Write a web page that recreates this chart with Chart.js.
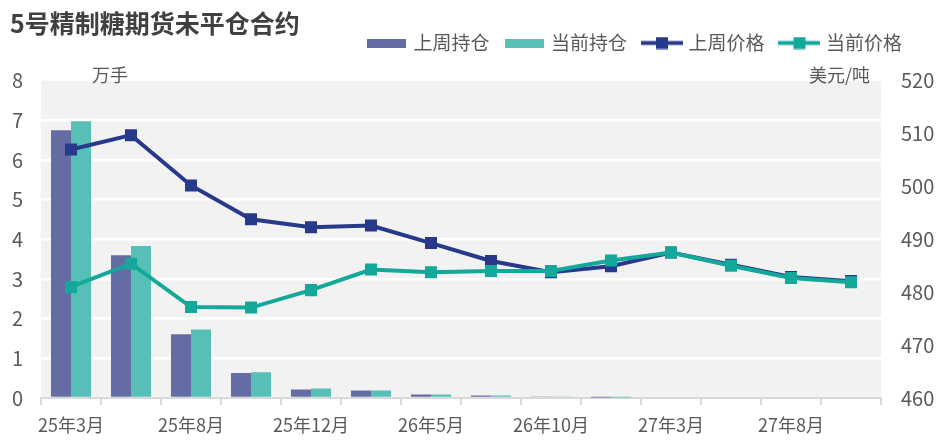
<!DOCTYPE html>
<html><head><meta charset="utf-8">
<script src="https://cdn.jsdelivr.net/npm/chart.js@4"></script>
<style>html,body{margin:0;padding:0;background:#fff}#wrap{width:945px;height:444px}</style>
</head><body><div id="wrap"><canvas id="c" width="945" height="444"></canvas></div>
<script>
const categories = ['25年3月','25年5月','25年8月','25年10月','25年12月','26年3月','26年5月','26年8月','26年10月','26年12月','27年3月','27年5月','27年8月','27年10月'];
const lastWeekOI = [6.75,3.60,1.61,0.63,0.215,0.19,0.09,0.065,0.04,0.015,0,0,0,0];
const currentOI  = [6.98,3.83,1.73,0.65,0.24,0.19,0.09,0.065,0.04,0.015,0,0,0,0];
const lastWeekPrice = [507.0,509.7,500.2,493.8,492.3,492.6,489.3,485.9,483.8,484.9,487.5,485.2,482.9,482.1];
const currentPrice  = [481.0,485.4,477.2,477.1,480.4,484.3,483.8,484.0,484.0,486.0,487.5,485.0,482.7,481.9];
const seriesNames = ['上周持仓','当前持仓','上周价格','当前价格'];
const leftTicks = {min:0, max:8, step:1};
const rightTicks = {min:460, max:520, step:10};
const titleText = '5号精制糖期货未平仓合约';
const leftUnit = '万手';
const rightUnit = '美元/吨';

const C = {bar1:'#636ca3', bar2:'#56bfb6', line1:'#27398a', line2:'#14a89b', text:'#595959'};
const FONT = "'Noto Sans CJK SC', 'Noto Sans', sans-serif";
Chart.defaults.font.family = FONT;
Chart.defaults.color = C.text;

function barIcon(color){
  const c = document.createElement('canvas'); c.width = 39; c.height = 9;
  const x = c.getContext('2d'); x.fillStyle = color; x.fillRect(0,0,39,9); return c;
}
function lineIcon(color){
  const c = document.createElement('canvas'); c.width = 42; c.height = 13;
  const x = c.getContext('2d'); x.fillStyle = color; x.fillRect(0,4.5,42,4); x.fillRect(15,0.5,12,12); return c;
}
const legendIcons = [barIcon(C.bar1), barIcon(C.bar2), lineIcon(C.line1), lineIcon(C.line2)];

const plotBg = {
  id:'plotBg',
  afterLayout(chart){
    // keep the legend's right edge 25px in from the canvas edge, as in the reference
    if (chart.legend) chart.legend.right = chart.width - 25;
  },
  beforeDraw(chart){
    const {ctx, chartArea:a} = chart;
    ctx.save(); ctx.fillStyle = '#f2f2f2';
    ctx.fillRect(a.left, a.top, a.right-a.left, a.bottom-a.top); ctx.restore();
  },
  afterDraw(chart){
    const {ctx, chartArea:a} = chart;
    ctx.save();
    ctx.font = "18px " + FONT; ctx.fillStyle = C.text; ctx.textBaseline = 'middle';
    ctx.textAlign = 'left'; ctx.fillText(leftUnit, a.left + 51, a.top - 5.5);
    ctx.textAlign = 'right'; ctx.fillText(rightUnit, a.right - 11, a.top - 5.5);
    ctx.restore();
  }
};

new Chart(document.getElementById('c'), {
  data: {
    labels: categories,
    datasets: [
      {type:'bar', label:seriesNames[0], data:lastWeekOI, backgroundColor:C.bar1, yAxisID:'y', order:2, categoryPercentage:0.667, barPercentage:1},
      {type:'bar', label:seriesNames[1], data:currentOI, backgroundColor:C.bar2, yAxisID:'y', order:2, categoryPercentage:0.667, barPercentage:1},
      {type:'line', label:seriesNames[2], data:lastWeekPrice, borderColor:C.line1, backgroundColor:C.line1, borderWidth:4, pointStyle:'rect', pointRadius:8.5, pointBorderWidth:0, pointBackgroundColor:C.line1, tension:0, yAxisID:'yR', order:1},
      {type:'line', label:seriesNames[3], data:currentPrice, borderColor:C.line2, backgroundColor:C.line2, borderWidth:4, pointStyle:'rect', pointRadius:8.5, pointBorderWidth:0, pointBackgroundColor:C.line2, tension:0, yAxisID:'yR', order:0}
    ]
  },
  options: {
    responsive:false, animation:false, devicePixelRatio:1,
    layout:{padding:{left:10, right:0, top:0, bottom:6}},
    plugins:{
      title:{display:true, text:titleText, align:'start', color:'#404040', font:{size:25, weight:'bold'}, padding:{top:8, bottom:-22.5}},
      legend:{position:'top', align:'end', labels:{
        usePointStyle:true, pointStyleWidth:34, padding:18, color:C.text, font:{size:19},
        sort:(a,b)=>a.datasetIndex-b.datasetIndex,
        generateLabels(chart){
          const items = Chart.defaults.plugins.legend.labels.generateLabels(chart);
          items.forEach(it=>{ it.pointStyle = legendIcons[it.datasetIndex]; });
          return items;
        }
      }},
      subtitle:{display:true, text:'', weight:500, padding:{top:0,bottom:0}, font:{size:18.2, lineHeight:1}},
      tooltip:{enabled:false}
    },
    scales:{
      x:{type:'category', offset:true,
        grid:{offset:true, drawOnChartArea:false, drawTicks:true, tickLength:7, color:'#d9d9d9', lineWidth:2},
        border:{display:true, color:'#d9d9d9', width:2},
        ticks:{autoSkip:false, maxRotation:0, minRotation:0, font:{size:18}, color:C.text, padding:9,
          callback:(v,i)=> i%2===0 ? categories[i] : ''},
        afterFit:s=>{ s.height = 40; }
      },
      y:{position:'left', min:leftTicks.min, max:leftTicks.max,
        ticks:{stepSize:leftTicks.step, font:{size:20}, color:C.text, padding:18},
        grid:{drawTicks:false, lineWidth:2.5, color:c=> (c.tick && c.tick.value>leftTicks.min && c.tick.value<leftTicks.max) ? '#ffffff' : 'rgba(0,0,0,0)'},
        border:{display:false},
        afterFit:s=>{ s.width = 31; }
      },
      yR:{position:'right', min:rightTicks.min, max:rightTicks.max,
        ticks:{stepSize:rightTicks.step, font:{size:20}, color:C.text, padding:20},
        grid:{display:false, drawTicks:false},
        border:{display:false},
        afterFit:s=>{ s.width = 64; }
      }
    }
  },
  plugins:[plotBg]
});
</script></body></html>
